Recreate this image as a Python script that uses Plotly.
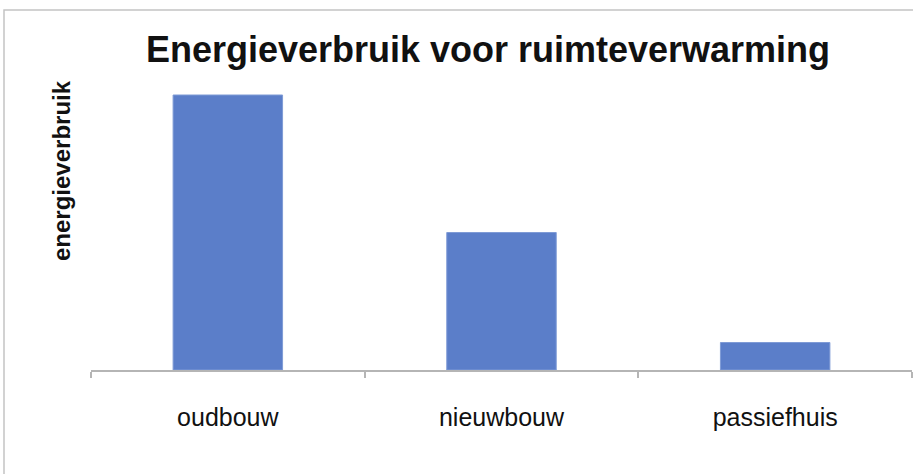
import plotly.graph_objects as go

categories = ["oudbouw", "nieuwbouw", "passiefhuis"]
values = [10, 5, 1]
title_text = "Energieverbruik voor ruimteverwarming"
y_label = "energieverbruik"

W, H = 913, 474
ml, mr, mt, mb = 91, 1, 40, 104

fig = go.Figure(
    go.Bar(
        x=categories,
        y=values,
        width=0.4,
        marker=dict(color="#5b7ec9", line=dict(color="#7f9bd6", width=1)),
        hoverinfo="skip",
    )
)

fig.update_layout(
    width=W,
    height=H,
    margin=dict(l=ml, r=mr, t=mt, b=mb, pad=0),
    paper_bgcolor="white",
    plot_bgcolor="white",
    showlegend=False,
    font=dict(family="Liberation Sans, Arial, sans-serif", color="#111111"),
    title=dict(
        text="<b>" + title_text + "</b>",
        x=488 / W,
        xanchor="center",
        y=1 - 49 / H,
        yanchor="middle",
        yref="container",
        xref="container",
        font=dict(size=36, color="#111111"),
    ),
    xaxis=dict(
        range=[-0.5, 2.5],
        showline=True,
        linecolor="#b5b5b5",
        linewidth=1.5,
        ticks="outside",
        tickson="boundaries",
        ticklen=6,
        tickcolor="#b5b5b5",
        tickwidth=1.5,
        tickfont=dict(size=25, color="#111111"),
        ticklabelstandoff=24,
        showgrid=False,
        zeroline=False,
        fixedrange=True,
    ),
    yaxis=dict(
        range=[0, 12],
        showticklabels=False,
        showgrid=False,
        zeroline=False,
        showline=False,
        ticks="",
        fixedrange=True,
    ),
    shapes=[
        dict(
            type="rect",
            xref="paper",
            yref="paper",
            x0=(4 - ml) / (W - ml - mr),
            x1=1.2,
            y0=-0.5,
            y1=1 + (mt - 10) / (H - mt - mb),
            line=dict(color="#c4c4c4", width=1.5),
            fillcolor="rgba(0,0,0,0)",
            layer="below",
        )
    ],
    annotations=[
        dict(
            text="<b>" + y_label + "</b>",
            textangle=-90,
            xref="paper",
            yref="paper",
            x=(61 - ml) / (W - ml - mr),
            y=1 - (171 - mt) / (H - mt - mb),
            xanchor="center",
            yanchor="middle",
            showarrow=False,
            font=dict(size=24, color="#111111"),
        )
    ],
)

fig.write_html("out.html")
